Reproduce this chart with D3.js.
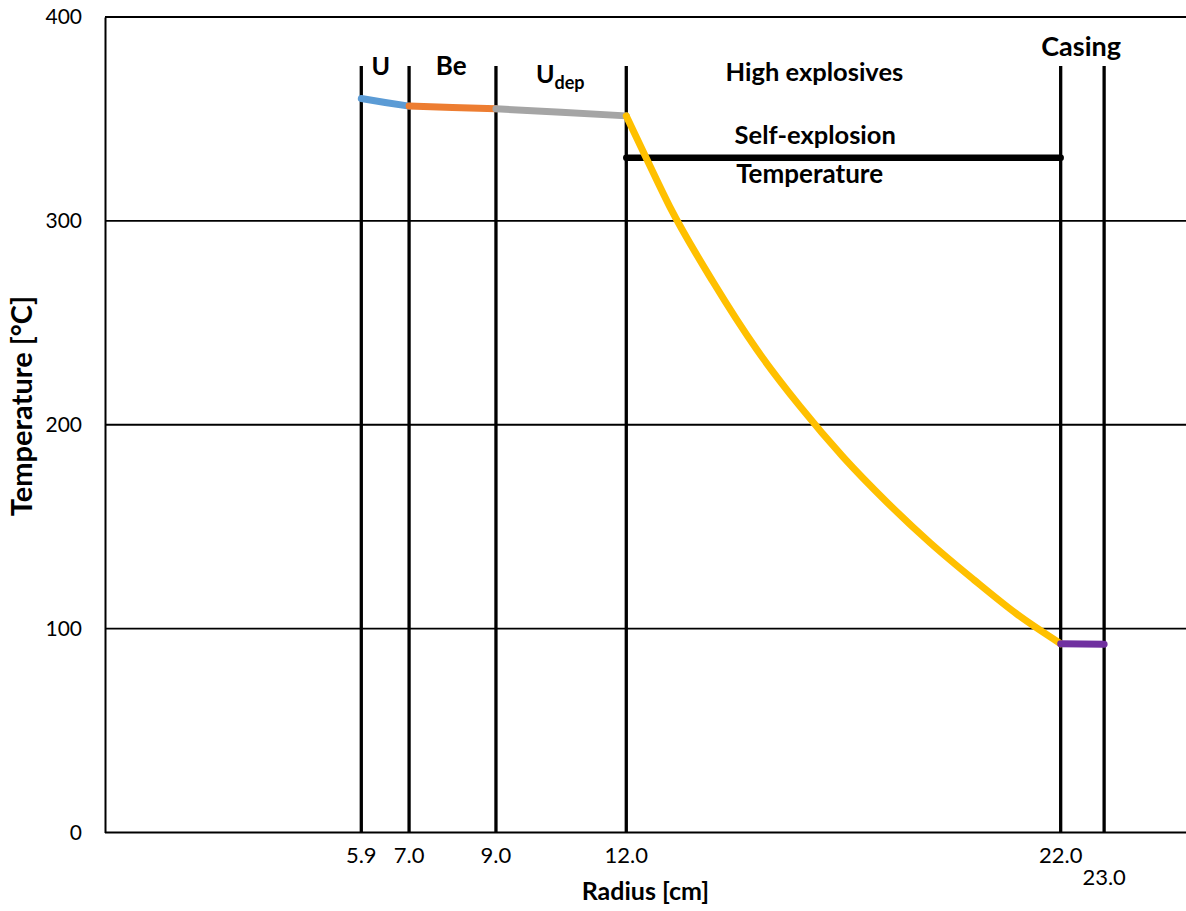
<!DOCTYPE html>
<html>
<head>
<meta charset="utf-8">
<script src="https://cdn.jsdelivr.net/npm/d3@7"></script>
<style>
  html, body { margin: 0; padding: 0; background: #fff; }
  svg { display: block; font-family: Lato, "Open Sans", sans-serif; }
</style>
</head>
<body>
<svg id="chart" width="1186" height="911"></svg>
<script>
// Layer boundaries (radius, cm) and their axis labels
const boundaries = [5.9, 7.0, 9.0, 12.0, 22.0, 23.0];
const boundaryLabels = ["5.9", "7.0", "9.0", "12.0", "22.0", "23.0"];
const boundaryTop = 376;

// Temperature ticks
const tempTicks = [0, 100, 200, 300, 400];

// Temperature profile per layer
const uRadius = [5.9, 6.45, 7.0];
const uTemp = [360, 358.1, 356.3];
const beRadius = [7.0, 8.0, 9.0];
const beTemp = [356.3, 355.6, 355.0];
const udepRadius = [9.0, 10.5, 12.0];
const udepTemp = [355.0, 353.3, 351.5];
const heRadius = [12.0, 12.5, 13.0, 14.0, 15.0, 16.0, 17.0, 18.0, 19.0, 20.0, 21.0, 22.0];
const heTemp = [351.5, 329, 307, 270, 237, 209, 184, 162, 142, 124, 107, 92.6];
const casingRadius = [22.0, 23.0];
const casingTemp = [92.6, 92.3];

// Self-explosion threshold across the high-explosive layer
const selfExplosionTemp = 331;
const selfExplosionRange = [12.0, 22.0];

const svg = d3.select("#chart");

const x = d3.scaleLinear().domain([0, 25]).range([105, 1191]);
const y = d3.scaleLinear().domain([0, 400]).range([832.5, 17]);

// Horizontal gridlines
svg.append("g")
  .selectAll("line")
  .data(tempTicks.filter(d => d > 0))
  .join("line")
  .attr("x1", x(0)).attr("x2", x(25))
  .attr("y1", d => y(d)).attr("y2", d => y(d))
  .attr("stroke", "#000").attr("stroke-width", 1.8);

// Y axis (labels only, no tick marks)
const yAxis = d3.axisLeft(y).tickValues(tempTicks).tickSize(0).tickPadding(23);
const gy = svg.append("g").attr("transform", `translate(${x(0)},0)`).call(yAxis);
gy.select(".domain").attr("stroke", "#000").attr("stroke-width", 2);
gy.selectAll("text")
  .attr("font-family", "Lato, 'Open Sans', sans-serif")
  .attr("font-size", 21).attr("fill", "#000");

// X axis baseline
svg.append("line")
  .attr("x1", x(0)).attr("x2", x(25))
  .attr("y1", y(0)).attr("y2", y(0))
  .attr("stroke", "#000").attr("stroke-width", 2);

// Layer boundary lines
svg.append("g")
  .selectAll("line")
  .data(boundaries)
  .join("line")
  .attr("x1", d => x(d)).attr("x2", d => x(d))
  .attr("y1", y(0)).attr("y2", y(boundaryTop))
  .attr("stroke", "#000").attr("stroke-width", 3.3);

// Boundary tick labels
svg.append("g")
  .selectAll("text")
  .data(boundaries)
  .join("text")
  .attr("x", d => x(d))
  .attr("y", (d, i) => i === boundaries.length - 1 ? 885 : 863)
  .attr("text-anchor", "middle")
  .attr("font-size", 22)
  .text((d, i) => boundaryLabels[i]);

// Self-explosion temperature line
svg.append("line")
  .attr("x1", x(selfExplosionRange[0])).attr("x2", x(selfExplosionRange[1]))
  .attr("y1", y(selfExplosionTemp)).attr("y2", y(selfExplosionTemp))
  .attr("stroke", "#000").attr("stroke-width", 6.5)
  .attr("stroke-linecap", "round");

// Temperature profile curves
const line = d3.line()
  .x(d => x(d[0])).y(d => y(d[1]))
  .curve(d3.curveMonotoneX);

const layers = [
  { r: uRadius, t: uTemp, color: "#5B9BD5" },
  { r: beRadius, t: beTemp, color: "#ED7D31" },
  { r: udepRadius, t: udepTemp, color: "#A5A5A5" },
  { r: heRadius, t: heTemp, color: "#FFC000" },
  { r: casingRadius, t: casingTemp, color: "#7030A0" }
];

svg.append("g")
  .selectAll("path")
  .data(layers)
  .join("path")
  .attr("d", d => line(d.r.map((r, i) => [r, d.t[i]])))
  .attr("fill", "none")
  .attr("stroke", d => d.color)
  .attr("stroke-width", 7)
  .attr("stroke-linecap", "round")
  .attr("stroke-linejoin", "round");

// Layer names
const bold = svg.append("g").attr("font-weight", "bold").attr("fill", "#000");
bold.append("text").attr("x", x(6.35)).attr("y", 75).attr("text-anchor", "middle")
  .attr("font-size", 25).text("U");
bold.append("text").attr("x", x(7.97)).attr("y", 75).attr("text-anchor", "middle")
  .attr("font-size", 26).text("Be");
const udep = bold.append("text").attr("x", x(10.48)).attr("y", 83).attr("text-anchor", "middle")
  .attr("font-size", 25);
udep.append("tspan").text("U");
udep.append("tspan").attr("font-size", 18).attr("dy", 6).text("dep");
bold.append("text").attr("x", x(16.33)).attr("y", 81).attr("text-anchor", "middle")
  .attr("font-size", 25.5).text("High explosives");
bold.append("text").attr("x", x(22.47)).attr("y", 56).attr("text-anchor", "middle")
  .attr("font-size", 27).text("Casing");
bold.append("text").attr("x", x(16.35)).attr("y", 144).attr("text-anchor", "middle")
  .attr("font-size", 25.5).text("Self-explosion");
bold.append("text").attr("x", x(16.22)).attr("y", 183).attr("text-anchor", "middle")
  .attr("font-size", 26).text("Temperature");

// Axis titles
bold.append("text").attr("x", x(12.44)).attr("y", 900).attr("text-anchor", "middle")
  .attr("font-size", 25).text("Radius [cm]");
bold.append("text")
  .attr("transform", `translate(32,406) rotate(-90)`)
  .attr("text-anchor", "middle")
  .attr("font-size", 29).text("Temperature [°C]");
</script>
</body>
</html>
